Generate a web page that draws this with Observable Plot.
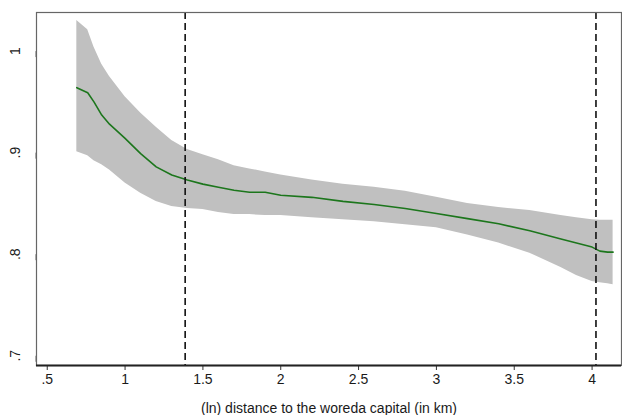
<!DOCTYPE html>
<html>
<head>
<meta charset="utf-8">
<script src="https://cdn.jsdelivr.net/npm/d3@7"></script>
<script src="https://cdn.jsdelivr.net/npm/@observablehq/plot@0.6"></script>
<style>
  html, body { margin: 0; padding: 0; background: #fff; }
  #chart svg { display: block; }
</style>
</head>
<body>
<div id="chart"></div>
<script>
const xs    = [0.69, 0.76, 0.80, 0.85, 0.90, 1.00, 1.10, 1.20, 1.30, 1.40, 1.50, 1.60, 1.70, 1.80, 1.90, 2.00, 2.20, 2.40, 2.60, 2.80, 3.00, 3.20, 3.40, 3.60, 3.80, 3.90, 4.00, 4.05, 4.10, 4.135];
const fit   = [0.964, 0.959, 0.950, 0.937, 0.928, 0.914, 0.899, 0.886, 0.878, 0.873, 0.869, 0.866, 0.863, 0.861, 0.861, 0.858, 0.856, 0.852, 0.849, 0.845, 0.840, 0.835, 0.830, 0.823, 0.815, 0.811, 0.807, 0.803, 0.802, 0.802];
const upper = [1.030, 1.021, 1.004, 0.987, 0.975, 0.955, 0.939, 0.925, 0.912, 0.903, 0.898, 0.893, 0.887, 0.884, 0.881, 0.878, 0.873, 0.869, 0.866, 0.862, 0.856, 0.850, 0.846, 0.843, 0.838, 0.836, 0.834, 0.8335, 0.8335, 0.8335];
const lower = [0.901, 0.897, 0.892, 0.888, 0.883, 0.870, 0.860, 0.852, 0.847, 0.845, 0.844, 0.841, 0.839, 0.839, 0.838, 0.838, 0.836, 0.834, 0.832, 0.829, 0.826, 0.819, 0.811, 0.801, 0.787, 0.779, 0.773, 0.772, 0.771, 0.770];
const cutoffs = [1.386, 4.025];
const xTicks = [0.5, 1, 1.5, 2, 2.5, 3, 3.5, 4];
const yTicks = [0.7, 0.8, 0.9, 1];
const xLabel = "(ln) distance to the woreda capital (in km)";

const data = xs.map((x, i) => ({x, fit: fit[i], lo: lower[i], hi: upper[i]}));
const fmt = d => String(d).replace(/^0\./, ".");

const chart = Plot.plot({
  width: 622,
  height: 415,
  marginLeft: 36,
  marginTop: 12,
  marginRight: 1,
  marginBottom: 50,
  style: {fontFamily: "'Liberation Sans', Arial, sans-serif", fontSize: "14px", color: "#1a1a1a", background: "#fff"},
  x: {domain: [0.431, 4.189]},
  y: {domain: [0.6904, 1.038]},
  marks: [
    Plot.areaY(data, {x: "x", y1: "lo", y2: "hi", fill: "#c0c0c0", fillOpacity: 1}),
    Plot.lineY(data, {x: "x", y: "fit", stroke: "#1c761c", strokeWidth: 1.6}),
    Plot.ruleX(cutoffs, {stroke: "#111", strokeWidth: 1.6, strokeDasharray: "7,4"}),
    Plot.frame({stroke: "#666", strokeWidth: 1.2}),
    Plot.axisX({ticks: xTicks, tickFormat: fmt, tickSize: 5, tickPadding: 4, stroke: "#333",
      label: xLabel, labelAnchor: "center", labelArrow: "none", labelOffset: 47, fontSize: 14}),
    Plot.axisY({ticks: yTicks, tickFormat: fmt, tickSize: 6, tickPadding: 15, stroke: "#666",
      rotate: -90, textAnchor: "middle", label: null, fontSize: 14}),
    Plot.ruleY([0.6904], {stroke: "#222", strokeWidth: 1.8})
  ]
});
document.getElementById("chart").appendChild(chart);
</script>
</body>
</html>
